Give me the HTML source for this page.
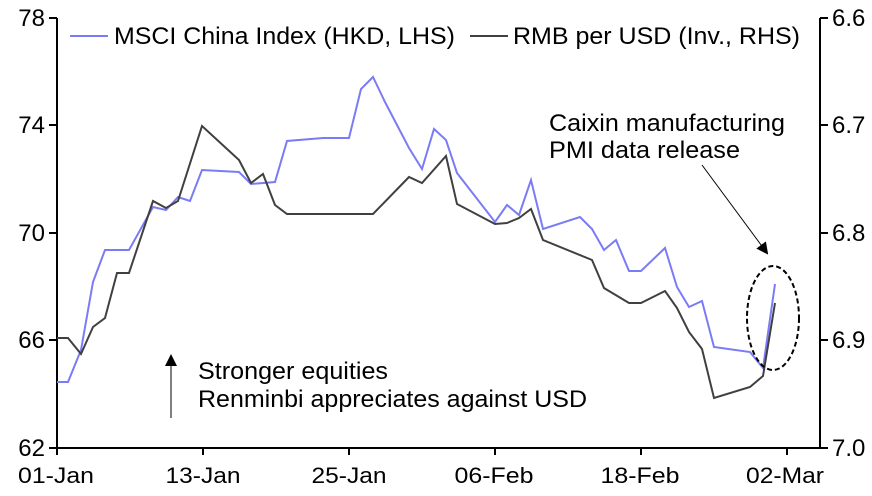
<!DOCTYPE html>
<html><head><meta charset="utf-8"><style>
html,body{margin:0;padding:0;background:#fff;}
svg text{font-family:"Liberation Sans",Arial,sans-serif;fill:#000;}
</style></head><body>
<svg width="872" height="491" viewBox="0 0 872 491" xmlns="http://www.w3.org/2000/svg">
<defs><marker id="ah" markerWidth="12" markerHeight="12" refX="10" refY="6" orient="auto" markerUnits="userSpaceOnUse"><path d="M0,0 L12,6 L0,12 z" fill="#000"/></marker></defs>
<g stroke="#000" stroke-width="2" fill="none">
<line x1="57" y1="18" x2="57" y2="448"/>
<line x1="820" y1="18" x2="820" y2="448"/>
<line x1="57" y1="448" x2="820" y2="448"/>
<line x1="49" y1="18" x2="57" y2="18"/><line x1="49" y1="125" x2="57" y2="125"/><line x1="49" y1="233" x2="57" y2="233"/><line x1="49" y1="340" x2="57" y2="340"/><line x1="49" y1="448" x2="57" y2="448"/>
<line x1="820" y1="18" x2="828" y2="18"/><line x1="820" y1="125" x2="828" y2="125"/><line x1="820" y1="233" x2="828" y2="233"/><line x1="820" y1="340" x2="828" y2="340"/><line x1="820" y1="448" x2="828" y2="448"/>
<line x1="57" y1="448" x2="57" y2="455"/><line x1="203" y1="448" x2="203" y2="455"/><line x1="349" y1="448" x2="349" y2="455"/><line x1="495" y1="448" x2="495" y2="455"/><line x1="641" y1="448" x2="641" y2="455"/><line x1="787" y1="448" x2="787" y2="455"/>
</g>
<g font-size="24">
<text x="45" y="26" text-anchor="end">78</text>
<text x="45" y="133" text-anchor="end">74</text>
<text x="45" y="241" text-anchor="end">70</text>
<text x="45" y="348" text-anchor="end">66</text>
<text x="45" y="456" text-anchor="end">62</text>
<text x="832" y="26">6.6</text>
<text x="832" y="133">6.7</text>
<text x="832" y="241">6.8</text>
<text x="832" y="348">6.9</text>
<text x="832" y="456">7.0</text>
</g>
<g font-size="22" text-anchor="middle">
<text x="56" y="483" textLength="76" lengthAdjust="spacingAndGlyphs">01-Jan</text>
<text x="203" y="483" textLength="75" lengthAdjust="spacingAndGlyphs">13-Jan</text>
<text x="349" y="483" textLength="75" lengthAdjust="spacingAndGlyphs">25-Jan</text>
<text x="494" y="483" textLength="79" lengthAdjust="spacingAndGlyphs">06-Feb</text>
<text x="640" y="483" textLength="79" lengthAdjust="spacingAndGlyphs">18-Feb</text>
<text x="785" y="483" textLength="78" lengthAdjust="spacingAndGlyphs">02-Mar</text>
</g>
<polyline fill="none" stroke="#7b7bf5" stroke-width="2" points="57,382 68,382 81,350 93,282 105,250 129,250 153,207 166,210 178,197 190,201 202,170 239,172 251,184 275,182 287,141 323,138 349,138 361,89 373,77 385,102 397,125 409,148 422,169 434,129 446,140 457,173 495,222 507,205 519,215 531,180 543,229 580,217 592,229 604,250 616,240 629,271 641,271 665,248 677,287 689,307 702,301 714,347 750,352 763,368 775,284"/>
<polyline fill="none" stroke="#404040" stroke-width="2" points="57,338 68,338 81,354 93,327 105,318 117,273 129,273 153,201 166,208 178,201 202,126 239,160 251,183 263,174 275,205 287,214 373,214 409,177 422,183 446,156 457,204 495,224 507,223 519,218 531,209 543,240 592,260 604,288 629,303 641,303 665,291 677,308 689,332 702,349 714,398 750,387 763,376 775,303"/>
<line x1="70" y1="36" x2="108" y2="36" stroke="#7b7bf5" stroke-width="2"/>
<text x="114" y="44" font-size="24" textLength="341" lengthAdjust="spacingAndGlyphs">MSCI China Index (HKD, LHS)</text>
<line x1="470" y1="36" x2="508" y2="36" stroke="#404040" stroke-width="2"/>
<text x="513" y="44" font-size="24" textLength="287" lengthAdjust="spacingAndGlyphs">RMB per USD (Inv., RHS)</text>
<text x="549" y="131" font-size="24" textLength="236" lengthAdjust="spacingAndGlyphs">Caixin manufacturing</text>
<text x="549" y="158" font-size="24" textLength="191" lengthAdjust="spacingAndGlyphs">PMI data release</text>
<line x1="702" y1="165" x2="767" y2="253" stroke="#000" stroke-width="1" marker-end="url(#ah)"/>
<ellipse cx="773" cy="318" rx="26" ry="52" fill="none" stroke="#000" stroke-width="2" stroke-dasharray="5,3"/>
<line x1="171" y1="418" x2="171" y2="356" stroke="#000" stroke-width="1" marker-end="url(#ah)"/>
<text x="198" y="379" font-size="24" textLength="190" lengthAdjust="spacingAndGlyphs">Stronger equities</text>
<text x="198" y="407" font-size="24" textLength="389" lengthAdjust="spacingAndGlyphs">Renminbi appreciates against USD</text>
</svg>
</body></html>
